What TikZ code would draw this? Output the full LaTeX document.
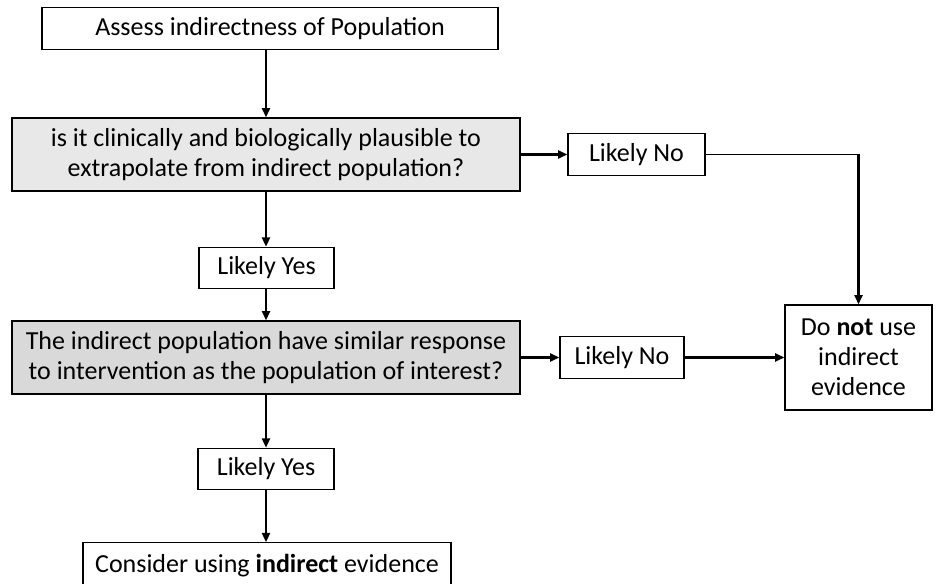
\documentclass[tikz,border=0pt]{standalone}
\usepackage{fontspec}
\setmainfont{Carlito}
\usetikzlibrary{arrows.meta}

\begin{document}
\begin{tikzpicture}
		[x=0.75pt,y=-0.75pt,
		 box/.style={draw,line width=0.9pt,align=center,inner sep=0pt,font=\fontsize{19.5}{22.5}\selectfont},
		 question/.style={box,minimum width=381pt,minimum height=54.75pt},
		 answer/.style={box,minimum height=31pt},
		 flow/.style={-{Triangle[length=7pt,width=6pt]},line width=1.6pt}]
		% canvas of the picture
		\useasboundingbox (0,0) rectangle (940,584);
		\clip (0,0) rectangle (940,584);

		% draw the main column of boxes
		\node[box,minimum width=342pt,minimum height=31pt] (assess) at (270,28.5) {Assess indirectness of Population};
		\node[question,fill=black!9] (plausible) at (266,154.5) {is it clinically and biologically plausible to\\extrapolate from indirect population?};
		\node[answer,minimum width=101.25pt] (yesone) at (266.5,268) {Likely Yes};
		\node[question,fill=black!15] (similar) at (266,357.5) {The indirect population have similar response\\to intervention as the population of interest?};
		\node[answer,minimum width=102pt] (yestwo) at (266,469) {Likely Yes};
		\node[box,minimum width=276pt,minimum height=34pt] (consider) at (267,565.5) {Consider using \textbf{indirect} evidence};

		% draw the boxes on the right
		\node[answer,minimum width=102.75pt] (noone) at (636.5,154.5) {Likely No};
		\node[answer,minimum width=93pt] (notwo) at (622,357.5) {Likely No};
		\node[box,minimum width=110.25pt,minimum height=78.75pt] (dont) at (858.5,357.5) {Do \textbf{not} use\\indirect\\evidence};
		\coordinate (corner) at (dont.north |- noone.east);

		% draw the arrows
		\draw [flow] (assess.south -| plausible.north) -- (plausible.north);
		\draw [flow] (plausible.south) -- (yesone.north -| plausible.south);
		\draw [flow] (yesone.south -| similar.north) -- (similar.north);
		\draw [flow] (similar.south) -- (yestwo.north -| similar.south);
		\draw [flow] (yestwo.south) -- (consider.north -| yestwo.south);
		\draw [flow] (plausible.east) -- (noone.west);
		\draw [line width=0.8pt] (noone.east) -- (corner);
		\draw [flow] (corner) -- (dont.north);
		\draw [flow] (similar.east) -- (notwo.west);
		\draw [flow] (notwo.east) -- (dont.west);
	\end{tikzpicture}
\end{document}
